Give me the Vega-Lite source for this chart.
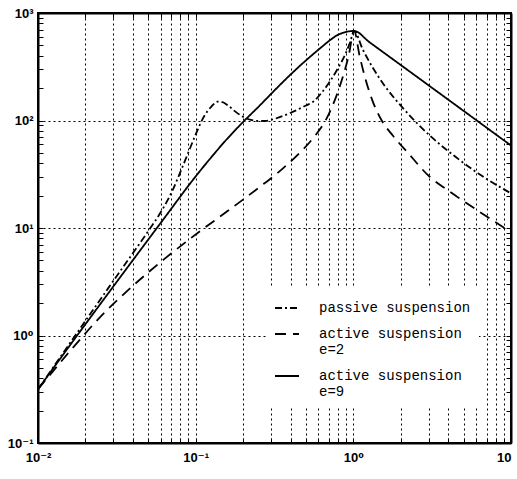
{
  "$schema": "https://vega.github.io/schema/vega-lite/v6.json",
  "width": 473,
  "height": 430,
  "autosize": {"type": "none"},
  "padding": {"left": 38, "top": 13, "right": 6, "bottom": 36},
  "background": "white",
  "config": {
    "view": {"stroke": "black", "strokeWidth": 2},
    "axis": {
      "domainColor": "black",
      "domainWidth": 2,
      "tickColor": "black",
      "tickWidth": 1,
      "tickSize": -5,
      "labelFont": "Liberation Sans, DejaVu Sans",
      "labelFontSize": 13,
      "labelFontWeight": "bold",
      "labelColor": "black",
      "labelOverlap": false,
      "labelFlush": false
    }
  },
  "data": {
    "values": [
      {"s": "p", "x": 0.01, "y": 0.316},
      {"s": "p", "x": 0.02818, "y": 2.818},
      {"s": "p", "x": 0.05058, "y": 9.57},
      {"s": "p", "x": 0.05623, "y": 12.02},
      {"s": "p", "x": 0.0631, "y": 15.85},
      {"s": "p", "x": 0.07079, "y": 21.88},
      {"s": "p", "x": 0.07943, "y": 32.36},
      {"s": "p", "x": 0.08913, "y": 48.98},
      {"s": "p", "x": 0.1, "y": 74.13},
      {"s": "p", "x": 0.1122, "y": 107.2},
      {"s": "p", "x": 0.1259, "y": 134.9},
      {"s": "p", "x": 0.138, "y": 149.6},
      {"s": "p", "x": 0.1479, "y": 147.9},
      {"s": "p", "x": 0.1585, "y": 139.6},
      {"s": "p", "x": 0.1778, "y": 121.6},
      {"s": "p", "x": 0.1995, "y": 108.4},
      {"s": "p", "x": 0.2239, "y": 101.2},
      {"s": "p", "x": 0.2512, "y": 98.9},
      {"s": "p", "x": 0.2818, "y": 99.3},
      {"s": "p", "x": 0.3162, "y": 103.5},
      {"s": "p", "x": 0.3981, "y": 117.5},
      {"s": "p", "x": 0.5012, "y": 138},
      {"s": "p", "x": 0.5623, "y": 151.4},
      {"s": "p", "x": 0.631, "y": 182},
      {"s": "p", "x": 0.7079, "y": 229},
      {"s": "p", "x": 0.7943, "y": 302},
      {"s": "p", "x": 0.8913, "y": 417},
      {"s": "p", "x": 0.955, "y": 537},
      {"s": "p", "x": 1.0116, "y": 681},
      {"s": "p", "x": 1.148, "y": 457},
      {"s": "p", "x": 1.318, "y": 316},
      {"s": "p", "x": 1.585, "y": 209},
      {"s": "p", "x": 1.995, "y": 138},
      {"s": "p", "x": 2.512, "y": 95.5},
      {"s": "p", "x": 3.162, "y": 69.2},
      {"s": "p", "x": 4.467, "y": 45.7},
      {"s": "p", "x": 6.31, "y": 31.6},
      {"s": "p", "x": 10, "y": 21},
      {"s": "a2", "x": 0.01, "y": 0.316},
      {"s": "a2", "x": 0.01585, "y": 0.708},
      {"s": "a2", "x": 0.02512, "y": 1.514},
      {"s": "a2", "x": 0.03981, "y": 2.884},
      {"s": "a2", "x": 0.0631, "y": 5.129},
      {"s": "a2", "x": 0.1, "y": 8.71},
      {"s": "a2", "x": 0.1585, "y": 14.29},
      {"s": "a2", "x": 0.2512, "y": 23.71},
      {"s": "a2", "x": 0.3548, "y": 35.48},
      {"s": "a2", "x": 0.4467, "y": 48.42},
      {"s": "a2", "x": 0.5623, "y": 69.98},
      {"s": "a2", "x": 0.6607, "y": 97.7},
      {"s": "a2", "x": 0.7586, "y": 151.4},
      {"s": "a2", "x": 0.8511, "y": 245.5},
      {"s": "a2", "x": 0.9333, "y": 398.1},
      {"s": "a2", "x": 1.0116, "y": 681},
      {"s": "a2", "x": 1.0965, "y": 398.1},
      {"s": "a2", "x": 1.2023, "y": 234.4},
      {"s": "a2", "x": 1.3183, "y": 154.9},
      {"s": "a2", "x": 1.5136, "y": 100},
      {"s": "a2", "x": 1.7783, "y": 72.44},
      {"s": "a2", "x": 2.1878, "y": 51.29},
      {"s": "a2", "x": 3.062, "y": 29.79},
      {"s": "a2", "x": 3.981, "y": 22.39},
      {"s": "a2", "x": 6.081, "y": 14.69},
      {"s": "a2", "x": 10, "y": 9.12},
      {"s": "a9", "x": 0.01, "y": 0.316},
      {"s": "a9", "x": 0.01742, "y": 0.968},
      {"s": "a9", "x": 0.03162, "y": 3.162},
      {"s": "a9", "x": 0.0631, "y": 12.3},
      {"s": "a9", "x": 0.1, "y": 30.2},
      {"s": "a9", "x": 0.1259, "y": 45.7},
      {"s": "a9", "x": 0.1585, "y": 67.6},
      {"s": "a9", "x": 0.1995, "y": 96.6},
      {"s": "a9", "x": 0.2512, "y": 134.9},
      {"s": "a9", "x": 0.3162, "y": 190.5},
      {"s": "a9", "x": 0.3981, "y": 266},
      {"s": "a9", "x": 0.5012, "y": 363},
      {"s": "a9", "x": 0.631, "y": 484},
      {"s": "a9", "x": 0.7079, "y": 556},
      {"s": "a9", "x": 0.7943, "y": 624},
      {"s": "a9", "x": 0.8913, "y": 664},
      {"s": "a9", "x": 1.0116, "y": 681},
      {"s": "a9", "x": 1.259, "y": 538},
      {"s": "a9", "x": 1.778, "y": 372},
      {"s": "a9", "x": 3.162, "y": 201},
      {"s": "a9", "x": 5.902, "y": 103},
      {"s": "a9", "x": 10, "y": 58.5}
    ]
  },
  "layer": [
    {
      "mark": {"type": "line", "color": "black", "strokeWidth": 1.8, "interpolate": "monotone", "clip": true},
      "encoding": {
        "x": {
          "field": "x", "type": "quantitative",
          "scale": {"type": "log", "domain": [0.01, 10], "nice": false},
          "axis": {
            "title": null,
            "values": [0.01,0.02,0.03,0.04,0.05,0.06,0.07,0.08,0.09,0.1,0.2,0.3,0.4,0.5,0.6,0.7,0.8,0.9,1,2,3,4,5,6,7,8,9,10],
            "labelExpr": "datum.value==0.01?'10⁻²':datum.value==0.1?'10⁻¹':datum.value==1?'10⁰':datum.value==10?'10':''",
            "labelAlign": {"condition": {"test": "datum.value==10", "value": "right"}, "value": "center"},
            "labelPadding": 13,
            "grid": true,
            "gridColor": "black",
            "gridDash": [2, 3],
            "gridWidth": 1,
            "gridOpacity": 1
          }
        },
        "y": {
          "field": "y", "type": "quantitative",
          "scale": {"type": "log", "domain": [0.1, 1000], "nice": false},
          "axis": {
            "title": null,
            "values": [0.1,0.2,0.3,0.4,0.5,0.6,0.7,0.8,0.9,1,2,3,4,5,6,7,8,9,10,20,30,40,50,60,70,80,90,100,200,300,400,500,600,700,800,900,1000],
            "labelExpr": "datum.value==0.1?'10⁻¹':datum.value==1?'10⁰':datum.value==10?'10¹':datum.value==100?'10²':datum.value==1000?'10³':''",
            "labelPadding": 10,
            "grid": true,
            "gridColor": "black",
            "gridDash": [2, 3],
            "gridWidth": 1,
            "gridOpacity": {"condition": {"test": "datum.value==0.1||datum.value==1||datum.value==10||datum.value==100||datum.value==1000", "value": 1}, "value": 0}
          }
        },
        "strokeDash": {
          "field": "s", "type": "nominal",
          "scale": {"domain": ["p", "a2", "a9"], "range": [[7, 3, 2, 3], [11, 7], [1, 0]]},
          "legend": {
            "title": null,
            "orient": "none",
            "legendX": 228,
            "legendY": 274,
            "fillColor": "white",
            "padding": 8,
            "symbolType": "stroke",
            "symbolSize": 576,
            "symbolStrokeColor": "black",
            "symbolStrokeWidth": 1.8,
            "labelFont": "Liberation Mono",
            "labelFontSize": 14,
            "labelColor": "black",
            "labelOffset": 19,
            "labelLimit": 400,
            "rowPadding": 6,
            "labelBaseline": "top",
            "labelExpr": "datum.value=='p'?'passive suspension':datum.value=='a2'?['active suspension',' e=2']:['active suspension','e=9']",
            "encode": {"labels": {"update": {"dy": {"value": -7}}}}
          }
        }
      }
    },
    {
      "mark": {"type": "point", "opacity": 0},
      "encoding": {
        "x": {
          "field": "x", "type": "quantitative",
          "scale": {"type": "log", "domain": [0.01, 10], "nice": false},
          "axis": {
            "orient": "top", "title": null, "labels": false, "grid": false,
            "values": [0.01,0.02,0.03,0.04,0.05,0.06,0.07,0.08,0.09,0.1,0.2,0.3,0.4,0.5,0.6,0.7,0.8,0.9,1,2,3,4,5,6,7,8,9,10]
          }
        },
        "y": {
          "field": "y", "type": "quantitative",
          "scale": {"type": "log", "domain": [0.1, 1000], "nice": false},
          "axis": {
            "orient": "right", "title": null, "labels": false, "grid": false,
            "values": [0.1,0.2,0.3,0.4,0.5,0.6,0.7,0.8,0.9,1,2,3,4,5,6,7,8,9,10,20,30,40,50,60,70,80,90,100,200,300,400,500,600,700,800,900,1000]
          }
        }
      }
    }
  ],
  "resolve": {"axis": {"x": "independent", "y": "independent"}}
}
